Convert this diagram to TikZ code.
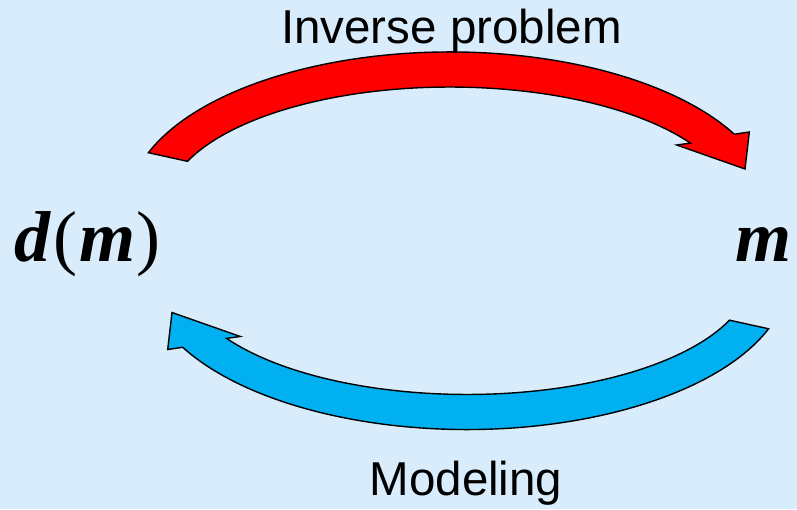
\documentclass[tikz,border=0pt]{standalone}
\usepackage{fontspec}
\setmainfont{Liberation Sans}
\newfontfamily\mathlike{Liberation Serif}
\definecolor{bg}{RGB}{216,236,252}
\definecolor{redA}{RGB}{255,0,0}
\definecolor{blueA}{RGB}{0,176,240}
\begin{document}
\begin{tikzpicture}[x=1pt,y=1pt,
  arrowshape/.style={draw=black,line width=1.4pt,line join=miter},
  lbl/.style={font=\fontsize{47.5}{57}\selectfont,inner sep=0pt,anchor=base},
  sym/.style={font=\fontsize{72}{86}\selectfont\mathlike,inner sep=0pt,anchor=base west}]
\fill[bg] (0,0) rectangle (797,509);
\useasboundingbox (0,0) rectangle (797,509);
% red arrow (inverse problem)
\path[arrowshape,fill=redA] (148.4,356.3)
  arc[start angle=159.5,end angle=28,x radius=322,y radius=155]
  -- (749.3,377) -- (745,340) -- (676.7,364) -- (690.4,365.9)
  arc[start angle=32.2,end angle=157.6,x radius=284,y radius=120]
  -- cycle;
% blue arrow (modeling): same shape turned half round
\begin{scope}[rotate around={180:(458.5,268.25)}]
\path[arrowshape,fill=blueA] (148.4,356.3)
  arc[start angle=159.5,end angle=28,x radius=322,y radius=155]
  -- (749.3,377) -- (745,340) -- (676.7,364) -- (690.4,365.9)
  arc[start angle=32.2,end angle=157.6,x radius=284,y radius=120]
  -- cycle;
\end{scope}
\node[lbl] (inv) at (451.5,465.7) {Inverse problem};
\node[lbl] (mod) at (466,14) {Modeling};
\node[sym] (dm) at (14,247) {{\bfseries\itshape d}\kern3pt(\kern2pt{\bfseries\itshape m}\kern1pt)};
\node[sym] (m) at (735,247) {\bfseries\itshape m};
\end{tikzpicture}
\end{document}
